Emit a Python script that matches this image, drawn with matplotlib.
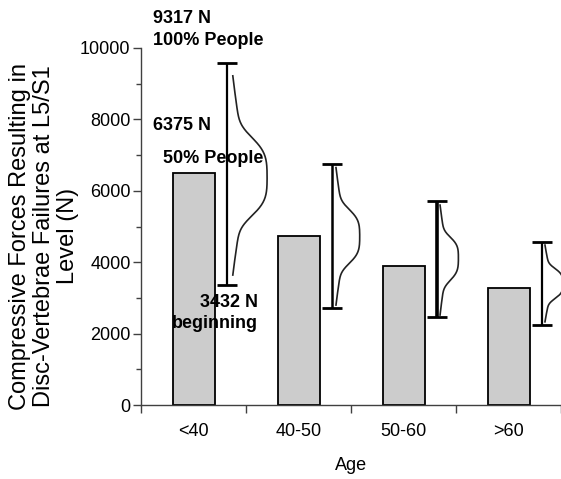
import numpy as np
import matplotlib
matplotlib.use("Agg")
import matplotlib.pyplot as plt
from matplotlib import font_manager

# --- data ---
AGE_GROUPS = ["<40", "40-50", "50-60", ">60"]
MEAN_FORCE = [6500, 4740, 3900, 3290]          # bar heights (N)
RANGE_HIGH = [9580, 6740, 5710, 4570]          # top cap of range bar (N)
RANGE_LOW = [3370, 2720, 2470, 2240]           # bottom cap of range bar (N)
DIST_TOP = [9220, 6650, 5600, 4480]            # distribution outline: upper end (N)
DIST_PEAK = [6375, 4720, 4120, 3400]           # distribution outline: mode (N)
DIST_BOTTOM = [3640, 2800, 2520, 2330]         # distribution outline: lower end (N)
DIST_WIDTH = [0.383, 0.265, 0.205, 0.2]        # distribution outline: max width (x units)

Y_TICKS = [0, 2000, 4000, 6000, 8000, 10000]
Y_LABEL = "Compressive Forces Resulting in\nDisc-Vertebrae Failures at L5/S1\nLevel (N)"

# style
BAR_COLOR = "#cccccc"
SPINE_COLOR = "#404040"
ERR_LW = [1.6, 1.8, 2.6, 1.6]
RANGE_OFFSET = 0.318
BAR_WIDTH = 0.4

installed = {f.name for f in font_manager.fontManager.ttflist}
if "Liberation Sans Narrow" in installed:
    TICK_FONT = {"family": "Liberation Sans Narrow", "size": 15}
else:
    TICK_FONT = {"family": "Liberation Sans", "size": 13}

plt.rcParams["font.family"] = ["Liberation Sans", "DejaVu Sans"]


def dist_outline(x0, top, peak, bottom, width):
    y = np.linspace(bottom, top, 300)
    t = np.where(y >= peak, (y - peak) / (top - peak), (y - peak) / (peak - bottom))
    shape = 0.6 * np.exp(-(t / 0.42) ** 4) + 0.4 * np.exp(-t ** 2)
    return x0 + width * shape, y


fig = plt.figure(figsize=(5.61, 4.79), dpi=100)
ax = fig.add_axes([141 / 561, 1 - 405 / 479, 1 - 141 / 561, (405 - 48) / 479])

x = np.arange(len(AGE_GROUPS))
ax.bar(x, MEAN_FORCE, width=BAR_WIDTH, color=BAR_COLOR, edgecolor="black", linewidth=1.3, zorder=2)

for i in range(len(AGE_GROUPS)):
    xe = x[i] + RANGE_OFFSET
    mid = (RANGE_HIGH[i] + RANGE_LOW[i]) / 2
    ax.errorbar(
        xe, mid,
        yerr=[[mid - RANGE_LOW[i]], [RANGE_HIGH[i] - mid]],
        fmt="none", ecolor="black", elinewidth=ERR_LW[i], capsize=7, capthick=2.0, zorder=3,
    )
    cx, cy = dist_outline(xe, DIST_TOP[i], DIST_PEAK[i], DIST_BOTTOM[i], DIST_WIDTH[i])
    ax.plot(cx, cy, color="#222222", linewidth=1.2, zorder=3)

ax.set_xlim(-0.5, 3.425)
ax.set_ylim(0, 10000)

# spines
for side in ["top", "right"]:
    ax.spines[side].set_visible(False)
for side in ["left", "bottom"]:
    ax.spines[side].set_color(SPINE_COLOR)
    ax.spines[side].set_linewidth(1.0)

# y axis
ax.set_yticks(Y_TICKS)
ax.set_yticks(np.arange(1000, 10000, 2000), minor=True)
ax.set_yticklabels([str(v) for v in Y_TICKS], fontdict=TICK_FONT)
ax.tick_params(axis="y", which="major", length=5.5, width=1.0, color=SPINE_COLOR, pad=2)
ax.tick_params(axis="y", which="minor", length=3.5, width=1.0, color=SPINE_COLOR)

# x axis: ticks at group boundaries, labels at group centres
ax.set_xticks([-0.5, 0.5, 1.5, 2.5, 3.5])
ax.set_xticklabels([])
ax.set_xticks(x, minor=True)
ax.set_xticklabels(AGE_GROUPS, minor=True, fontdict=TICK_FONT)
ax.tick_params(axis="x", which="major", length=5.5, width=1.0, color=SPINE_COLOR)
ax.tick_params(axis="x", which="minor", length=0, pad=13)
ax.set_xlabel("Age", fontdict=TICK_FONT, labelpad=12)

fig.text(44 / 561, 1 - 236 / 479, Y_LABEL, rotation=90, ha="center", va="center",
         multialignment="center", fontsize=17, linespacing=1.12)

# annotations
bold = dict(fontsize=13, fontweight="bold", va="baseline", clip_on=False)
ax.text(-0.388, 10700, "9317 N", ha="left", **bold)
ax.text(-0.388, 10084, "100% People", ha="left", **bold)
ax.text(-0.388, 7703, "6375 N", ha="left", **bold)
ax.text(-0.294, 6770, "50% People", ha="left", **bold)
ax.text(0.612, 2753, "3432 N", ha="right", **bold)
ax.text(0.612, 2157, "beginning", ha="right", **bold)

fig.savefig("out.png", dpi=100)
